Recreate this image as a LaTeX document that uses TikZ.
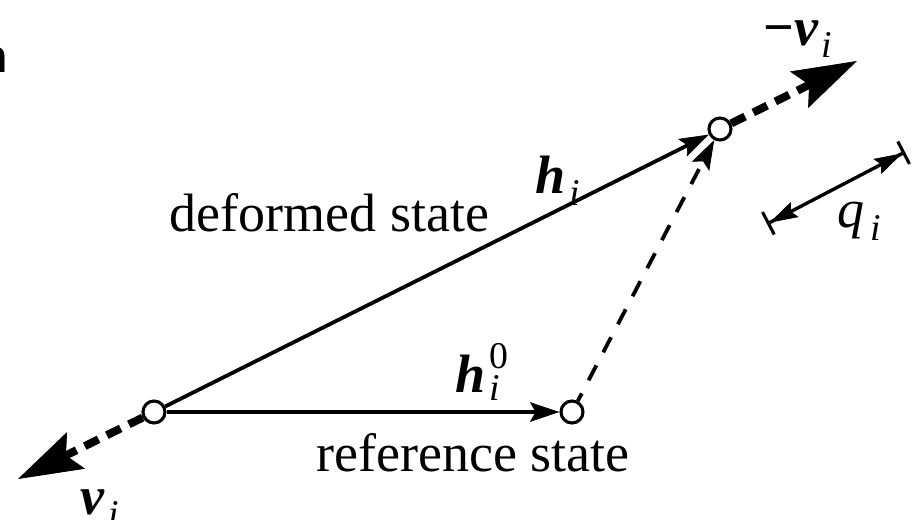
\documentclass[tikz,border=0pt]{standalone}
\usepackage{amsmath}
\usepackage{fontspec}
\setmainfont{Liberation Serif}
\setsansfont{Liberation Sans}
\usepackage{tikz}
\usetikzlibrary{positioning,arrows.meta}
\newcommand{\bvi}[1]{\text{\bfseries\itshape #1}}

\begin{document}
\begin{tikzpicture}[
x=0.025cm,y=-0.025cm,
every node/.style={font=\fontsize{38.4}{44}\selectfont,inner sep=0pt},
point/.style={circle,draw,fill=white,line width=2.2pt,minimum size=0.55cm,inner sep=0pt},
arrow/.style={-{Stealth[length=21pt,width=14pt,inset=4pt,line width=0.5pt]},line width=2.7pt},
dasharrow/.style={arrow,dash pattern=on 12pt off 10.5pt,dash phase=6pt},
bigarrow/.style={-{Stealth[length=46pt,width=29pt,inset=8pt,line width=0.5pt]},line width=5.7pt,dash pattern=on 11pt off 6.5pt},
dimarrow/.style={{Bar[width=18pt,line width=2.2pt]Stealth[length=20pt,width=12pt,inset=3pt,line width=0.5pt]}-{Stealth[length=20pt,width=12pt,inset=3pt,line width=0.5pt]Bar[width=18pt,line width=2.2pt]},line width=2.4pt}
]
\useasboundingbox (0,0) rectangle (922,520);
\node[point] (orig) at (154,412) {};
\node[point] (ref) at (572,412) {};
\node[point] (def) at (720,129) {};
\coordinate (vtip) at (18,479);
\coordinate (mvtip) at (857,61);
\coordinate (qa) at (767,224);
\coordinate (qb) at (905,152);
\draw[arrow] (orig)--(ref);
\draw[arrow] (orig)--(def);
\draw[dasharrow] (ref)--(def);
\draw[bigarrow] (orig)--(vtip);
\draw[bigarrow] (def)--(mvtip);
\draw[dimarrow] (qa)--(qb);
\node[anchor=base] (deflab) at (329.5,231) {deformed state};
\node[anchor=base] (reflab) at (473,471) {reference state};
\node[anchor=base west] (hlab) at (535,193) {$\bvi{h}_{\mkern2mu\text{\itshape i}}$};
\node[anchor=base west] (hzlab) at (455,392) {$\bvi{h}_{\mkern2mu\text{\itshape i}}^{\mkern2mu\text{0}}$};
\node[anchor=base west] (vlab) at (80,514) {$\bvi{v}_{\mkern2mu\text{\itshape i}}$};
\node[anchor=base west] (mvlab) at (763,45) {$\text{\bfseries −}\bvi{v}_{\mkern2mu\text{\itshape i}}$};
\node[anchor=base west] (qlab) at (837,227) {$\text{\itshape q}_{\,\text{\itshape i}}$};
\node[font=\fontsize{33}{36}\selectfont\sffamily\bfseries,anchor=base east] (frag) at (8,72) {n};
\end{tikzpicture}
\end{document}
